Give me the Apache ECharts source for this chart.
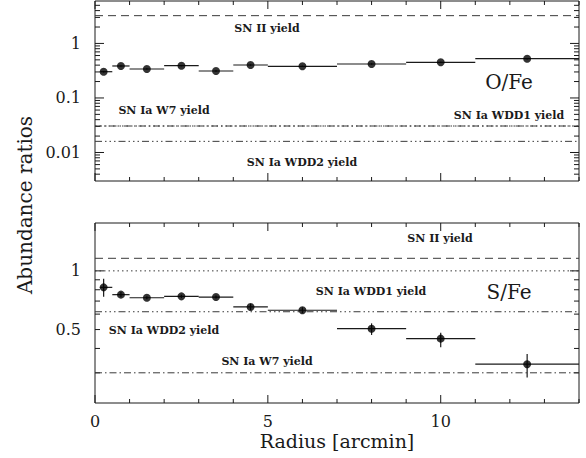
<!DOCTYPE html>
<html>
<head>
<meta charset="utf-8">
<script src="https://cdn.jsdelivr.net/npm/echarts@6/dist/echarts.min.js"></script>
<style>
  html, body { margin: 0; padding: 0; background: #fff; }
  #chart { width: 586px; height: 458px; }
</style>
</head>
<body>
<div id="chart"></div>
<script>
// Radial bins (arcmin): centre and bin edges
const radius   = [0.25, 0.75, 1.5, 2.5, 3.5, 4.5, 6, 8, 10, 12.5];
const radiusLo = [0.15, 0.5, 1, 2, 3, 4, 5, 7, 9, 11];
const radiusHi = [0.5, 1, 2, 3, 4, 5, 7, 9, 11, 14];

// O/Fe abundance ratio with 1-sigma range
const oFe   = [0.303, 0.386, 0.340, 0.391, 0.312, 0.402, 0.381, 0.420, 0.451, 0.525];
const oFeLo = [0.293, 0.375, 0.331, 0.380, 0.302, 0.391, 0.371, 0.409, 0.439, 0.510];
const oFeHi = [0.313, 0.397, 0.349, 0.402, 0.322, 0.413, 0.391, 0.431, 0.463, 0.540];

// S/Fe abundance ratio with 1-sigma range
const sFe   = [0.823, 0.755, 0.728, 0.740, 0.734, 0.653, 0.628, 0.505, 0.449, 0.332];
const sFeLo = [0.737, 0.732, 0.715, 0.727, 0.722, 0.630, 0.606, 0.469, 0.406, 0.284];
const sFeHi = [0.912, 0.779, 0.741, 0.754, 0.748, 0.678, 0.650, 0.538, 0.482, 0.375];

// Supernova yield ratios: SN II, SN Ia W7, SN Ia WDD1, SN Ia WDD2
const yieldKeys  = ['snII', 'w7', 'wdd1', 'wdd2'];
const oFeYield   = [3.23, 0.0306, 0.0306, 0.0160];
const sFeYield   = [1.16, 0.300, 1.0, 0.617];
const yieldNames = ['SN II yield', 'SN Ia W7 yield', 'SN Ia WDD1 yield', 'SN Ia WDD2 yield'];

// Axis ranges and tick labels
const xRange        = [0, 14];
const xTickLabels   = [0, 5, 10];
const oFeRange      = [0.003, 6];
const sFeRange      = [0.21, 1.76];
const oFeTickLabels = [0.01, 0.1, 1];
const sFeTickLabels = [0.5, 1];

const SERIF = '"DejaVu Serif", "Liberation Serif", serif';
const INK = '#1a1a1a';

const dashFor = {
  snII: [8, 5],
  w7:   [7, 3, 1.5, 3],
  wdd1: [1.5, 3],
  wdd2: [7, 3, 1.5, 3, 1.5, 3, 1.5, 3]
};

// Log-axis tick set: decades are major, mantissas 2..9 minor
function logTicks(range) {
  const out = [];
  const lo = Math.floor(Math.log10(range[0]));
  const hi = Math.ceil(Math.log10(range[1]));
  for (let e = lo; e <= hi; e++) {
    for (let m = 1; m <= 9; m++) {
      const v = +(m * Math.pow(10, e)).toPrecision(6);
      if (v > range[0] * 1.0001 && v < range[1] * 0.9999) out.push([xRange[0], v, m === 1 ? 0 : 1]);
    }
  }
  return out;
}
function xTicks(yMin) {
  const out = [];
  for (let x = xRange[0]; x <= xRange[1]; x++) out.push([x, yMin, x % 5 === 0 ? 2 : 3]);
  return out;
}

function renderTick(params, api) {
  const cs = params.coordSys;
  const kind = api.value(2);
  const p = api.coord([api.value(0), api.value(1)]);
  const st = { stroke: INK, lineWidth: 1 };
  const kids = [];
  if (kind < 2) {
    const len = kind === 0 ? 9 : 5;
    kids.push({ type: 'line', shape: { x1: cs.x, y1: p[1], x2: cs.x + len, y2: p[1] }, style: st });
    kids.push({ type: 'line', shape: { x1: cs.x + cs.width, y1: p[1], x2: cs.x + cs.width - len, y2: p[1] }, style: st });
  } else {
    const len = kind === 2 ? 8 : 4;
    const yb = cs.y + cs.height;
    kids.push({ type: 'line', shape: { x1: p[0], y1: yb, x2: p[0], y2: yb - len }, style: st });
    kids.push({ type: 'line', shape: { x1: p[0], y1: cs.y, x2: p[0], y2: cs.y + len }, style: st });
  }
  return { type: 'group', children: kids };
}

function renderYLabel(params, api) {
  const cs = params.coordSys;
  const p = api.coord([api.value(0), api.value(1)]);
  return {
    type: 'text',
    x: cs.x - 14, y: p[1],
    style: { text: String(api.value(1)), font: '16px ' + SERIF, fill: INK,
             align: 'right', verticalAlign: 'middle', textAlign: 'right', textVerticalAlign: 'middle' }
  };
}

function renderErrorBar(params, api) {
  const x = api.value(0), y = api.value(1);
  const l = api.coord([api.value(2), y]);
  const r = api.coord([api.value(3), y]);
  const b = api.coord([x, api.value(4)]);
  const t = api.coord([x, api.value(5)]);
  const st = { stroke: INK, lineWidth: 1.2 };
  return {
    type: 'group',
    children: [
      { type: 'line', shape: { x1: l[0], y1: l[1], x2: r[0], y2: r[1] }, style: st },
      { type: 'line', shape: { x1: b[0], y1: b[1], x2: t[0], y2: t[1] }, style: st }
    ]
  };
}

function panelSeries(idx, vals, lo, hi, yields, range, tickLabels) {
  const list = [];
  yields.forEach(function (v, i) {
    list.push({
      type: 'line', xAxisIndex: idx, yAxisIndex: idx, silent: true,
      showSymbol: false, symbol: 'none', animation: false,
      data: [[xRange[0], v], [xRange[1], v]],
      lineStyle: { color: '#3a3a3a', width: 1, type: dashFor[yieldKeys[i]] }
    });
  });
  list.push({
    type: 'custom', xAxisIndex: idx, yAxisIndex: idx, silent: true, animation: false,
    renderItem: renderErrorBar,
    encode: { x: 0, y: 1 },
    data: radius.map(function (r, i) { return [r, vals[i], radiusLo[i], radiusHi[i], lo[i], hi[i]]; })
  });
  list.push({
    type: 'scatter', xAxisIndex: idx, yAxisIndex: idx, silent: true, animation: false,
    symbol: 'circle', symbolSize: 8, itemStyle: { color: '#000' }, z: 5,
    data: radius.map(function (r, i) { return [r, vals[i]]; })
  });
  list.push({
    type: 'custom', xAxisIndex: idx, yAxisIndex: idx, silent: true, animation: false,
    renderItem: renderTick, encode: { x: 0, y: 1 },
    data: logTicks(range).concat(xTicks(range[0]))
  });
  list.push({
    type: 'custom', xAxisIndex: idx, yAxisIndex: idx, silent: true, animation: false,
    renderItem: renderYLabel, encode: { x: 0, y: 1 },
    data: tickLabels.map(function (v) { return [xRange[0], v]; })
  });
  return list;
}

function note(text, x, y, size) {
  return {
    type: 'text', x: x, y: y, silent: true,
    style: {
      text: text, fill: INK,
      font: (size ? size + 'px ' : 'bold 11px ') + SERIF,
      align: 'center', verticalAlign: 'middle', textAlign: 'center', textVerticalAlign: 'middle'
    }
  };
}

const gridBase = { left: 95, right: 7, height: 180, show: true, borderColor: INK, borderWidth: 1,
                   backgroundColor: 'transparent', outerBoundsMode: 'none' };

const hiddenAxis = {
  axisLine: { show: false }, axisTick: { show: false },
  axisLabel: { show: false }, splitLine: { show: false }
};

const option = {
  animation: false,
  backgroundColor: '#fff',
  grid: [
    Object.assign({ top: 1 }, gridBase),
    Object.assign({ top: 223 }, gridBase)
  ],
  xAxis: [
    Object.assign({ type: 'value', gridIndex: 0, min: xRange[0], max: xRange[1], interval: 5 }, hiddenAxis),
    Object.assign({ type: 'value', gridIndex: 1, min: xRange[0], max: xRange[1], interval: 5 }, hiddenAxis, {
      axisLabel: {
        show: true, margin: 10, color: INK, fontFamily: SERIF, fontSize: 16,
        showMaxLabel: false,
        formatter: function (v) { return xTickLabels.indexOf(v) >= 0 ? String(v) : ''; }
      },
      name: 'Radius [arcmin]', nameLocation: 'middle', nameGap: 28,
      nameTextStyle: { color: INK, fontFamily: SERIF, fontSize: 19 }
    })
  ],
  yAxis: [
    Object.assign({ type: 'log', gridIndex: 0, min: oFeRange[0], max: oFeRange[1], logBase: 10 }, hiddenAxis),
    Object.assign({ type: 'log', gridIndex: 1, min: sFeRange[0], max: sFeRange[1], logBase: 10 }, hiddenAxis)
  ],
  series: panelSeries(0, oFe, oFeLo, oFeHi, oFeYield, oFeRange, oFeTickLabels)
    .concat(panelSeries(1, sFe, sFeLo, sFeHi, sFeYield, sFeRange, sFeTickLabels)),
  graphic: [
    // O/Fe panel annotations
    note(yieldNames[0], 267, 28),
    note(yieldNames[1], 164, 110),
    note(yieldNames[2], 509, 115),
    note(yieldNames[3], 302, 162),
    note('O/Fe', 509, 82, 20),
    // S/Fe panel annotations
    note(yieldNames[0], 440, 238),
    note(yieldNames[2], 371, 291),
    note(yieldNames[3], 164, 330),
    note(yieldNames[1], 267, 361),
    note('S/Fe', 509, 292, 20),
    // shared y-axis title
    {
      type: 'text', x: 25, y: 205, rotation: Math.PI / 2, silent: true,
      style: { text: 'Abundance ratios', fill: INK, font: '20px ' + SERIF,
               align: 'center', verticalAlign: 'middle', textAlign: 'center', textVerticalAlign: 'middle' }
    }
  ]
};

const chart = echarts.init(document.getElementById('chart'), null, { renderer: 'svg' });
chart.setOption(option);
</script>
</body>
</html>
